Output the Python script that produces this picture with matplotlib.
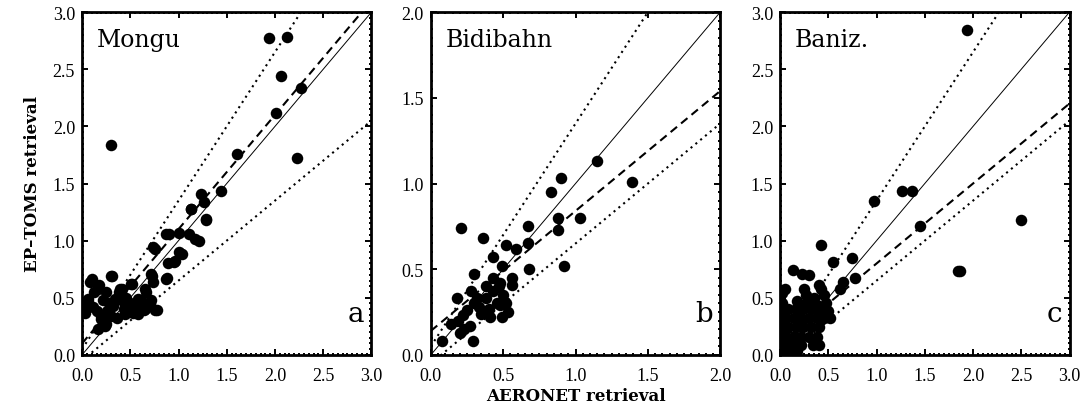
import numpy as np
import matplotlib
matplotlib.use('Agg')
import matplotlib.pyplot as plt
from matplotlib.ticker import MultipleLocator

# site names and panel letters
sites = ['Mongu', 'Bidibahn', 'Baniz.']
letters = ['a', 'b', 'c']
axmax = [3.0, 2.0, 3.0]

# AERONET (x) vs EP-TOMS (y)
mongu_x = [1.94, 2.12, 2.06, 2.27, 2.01, 2.23, 0.30, 1.61, 1.44, 1.23, 1.13, 1.26, 1.29,
           1.00, 0.90, 1.11, 1.21, 1.04, 0.95, 0.74, 0.72, 0.74, 0.88, 0.06, 0.08, 0.18,
           0.31, 0.39, 0.52, 0.66, 0.72, 0.78, 0.64, 0.53, 0.43, 0.32, 0.20, 0.25, 0.17,
           0.36, 0.22, 0.11, 0.03, 0.61, 0.46, 0.36, 0.10, 0.30, 0.06, 0.06, 0.17, 0.20,
           0.24, 0.30, 0.41, 0.51, 0.65, 0.76, 0.65, 0.48, 0.34, 0.58, 0.73, 0.87, 0.89,
           0.96, 1.00, 0.76, 0.87, 1.17, 1.28, 1.13, 0.12, 0.25, 0.28, 0.42, 0.50, 0.56,
           0.45, 0.58, 0.70, 0.15, 0.00, 0.26, 0.38]
mongu_y = [2.77, 2.78, 2.44, 2.34, 2.12, 1.72, 1.84, 1.76, 1.43, 1.41, 1.28, 1.34, 1.18,
           1.07, 1.06, 1.06, 1.00, 0.88, 0.81, 0.94, 0.71, 0.64, 0.67, 0.46, 0.64, 0.61,
           0.69, 0.58, 0.62, 0.55, 0.48, 0.39, 0.39, 0.37, 0.40, 0.43, 0.34, 0.27, 0.23,
           0.49, 0.48, 0.42, 0.37, 0.48, 0.50, 0.32, 0.66, 0.69, 0.49, 0.45, 0.58, 0.31,
           0.25, 0.34, 0.58, 0.62, 0.58, 0.39, 0.40, 0.40, 0.49, 0.49, 0.69, 0.66, 0.80,
           0.82, 0.90, 0.93, 1.06, 1.01, 1.19, 1.28, 0.55, 0.55, 0.45, 0.47, 0.45, 0.42,
           0.36, 0.36, 0.45, 0.38, 0.40, 0.38, 0.55]

bidi_x = [1.15, 0.90, 0.83, 1.39, 0.88, 0.88, 1.03, 0.92, 0.21, 0.36, 0.67, 0.52, 0.59,
          0.67, 0.43, 0.49, 0.68, 0.56, 0.56, 0.30, 0.18, 0.28, 0.38, 0.43, 0.50, 0.32,
          0.38, 0.48, 0.53, 0.49, 0.35, 0.22, 0.19, 0.14, 0.27, 0.08, 0.29, 0.43, 0.48,
          0.40, 0.46, 0.33, 0.25, 0.47, 0.52, 0.41, 0.30, 0.23, 0.20]
bidi_y = [1.13, 1.03, 0.95, 1.01, 0.80, 0.73, 0.80, 0.52, 0.74, 0.68, 0.75, 0.64, 0.62,
          0.65, 0.57, 0.52, 0.50, 0.45, 0.41, 0.47, 0.33, 0.37, 0.40, 0.37, 0.35, 0.33,
          0.33, 0.29, 0.25, 0.22, 0.24, 0.23, 0.20, 0.18, 0.17, 0.08, 0.08, 0.45, 0.42,
          0.27, 0.30, 0.28, 0.26, 0.40, 0.30, 0.22, 0.30, 0.15, 0.13]

baniz_x = [1.94, 0.97, 1.26, 1.37, 1.45, 2.50, 1.84, 1.86, 0.42, 0.55, 0.75, 0.78, 0.65,
           0.62, 0.13, 0.23, 0.30, 0.25, 0.40,
           0.02, 0.02, 0.03, 0.02, 0.02, 0.02, 0.02, 0.05,
           0.27, 0.35, 0.42, 0.45, 0.48, 0.50, 0.52,
           0.08, 0.16, 0.24, 0.32, 0.40,
           0.06, 0.14, 0.22, 0.30, 0.38, 0.45,
           0.08, 0.16, 0.24, 0.32, 0.40,
           0.06, 0.14, 0.22, 0.30, 0.38,
           0.08, 0.16, 0.22, 0.34, 0.40,
           0.06, 0.12, 0.18,
           0.28, 0.18, 0.38]
baniz_y = [2.84, 1.35, 1.43, 1.43, 1.13, 1.18, 0.73, 0.73, 0.96, 0.81, 0.85, 0.67, 0.64,
           0.58, 0.74, 0.71, 0.70, 0.58, 0.61,
           0.54, 0.45, 0.36, 0.27, 0.18, 0.09, 0.02, 0.58,
           0.52, 0.50, 0.58, 0.52, 0.45, 0.38, 0.32,
           0.40, 0.40, 0.40, 0.40, 0.40,
           0.32, 0.32, 0.32, 0.32, 0.32, 0.32,
           0.24, 0.24, 0.24, 0.24, 0.24,
           0.16, 0.16, 0.16, 0.16, 0.16,
           0.09, 0.09, 0.09, 0.09, 0.09,
           0.03, 0.03, 0.03,
           0.45, 0.47, 0.44]

# regression line (slope, offset) for each site
fit_slope = [1.0, 0.70, 0.70]
fit_offset = [0.10, 0.14, 0.10]
# expected error envelope: +-(env_a + env_b*tau)
env_a = 0.05
env_b = 0.3

xs = [mongu_x, bidi_x, baniz_x]
ys = [mongu_y, bidi_y, baniz_y]

fig = plt.figure(figsize=(10.88, 4.10), dpi=100)
lefts = [0.0754, 0.396, 0.717]
width = 0.266
bottom = 0.132
height = 0.836

for k in range(3):
    ax = fig.add_axes([lefts[k], bottom, width, height])
    top = axmax[k]
    t = np.linspace(0, top, 200)
    ax.plot(t, t, 'k-', lw=0.7)
    ax.plot(t, fit_slope[k]*t + fit_offset[k], 'k', lw=1.5, dashes=(4, 2.5))
    ax.plot(t, t + (env_a + env_b*t), 'k', lw=1.5, dashes=(1, 2))
    ax.plot(t, t - (env_a + env_b*t), 'k', lw=1.5, dashes=(1, 2))
    ax.plot(xs[k], ys[k], 'ko', ms=8.3, mew=0)
    ax.set_xlim(0, top)
    ax.set_ylim(0, top)
    ax.xaxis.set_major_locator(MultipleLocator(0.5))
    ax.yaxis.set_major_locator(MultipleLocator(0.5))
    ax.xaxis.set_minor_locator(MultipleLocator(0.05))
    ax.yaxis.set_minor_locator(MultipleLocator(0.05))
    ax.tick_params(which='both', direction='in', top=True, right=True, width=1.4)
    ax.tick_params(which='major', length=4)
    ax.tick_params(which='minor', length=1.6)
    ax.tick_params(axis='x', pad=9)
    ax.tick_params(axis='y', pad=5)
    ax.set_xticklabels(['%.1f' % v for v in ax.get_xticks()], family='Liberation Serif', fontsize=13)
    ax.set_yticklabels(['%.1f' % v for v in ax.get_yticks()], family='Liberation Serif', fontsize=13)
    for s in ax.spines.values():
        s.set_linewidth(2)
        s.set_zorder(5)
    ax.text(0.05, 0.90, sites[k], transform=ax.transAxes, family='DejaVu Serif', fontsize=17)
    ax.text(0.975, 0.10, letters[k], transform=ax.transAxes, ha='right', family='DejaVu Serif', fontsize=20)
    if k == 0:
        ax.set_ylabel('EP\u2013TOMS retrieval', family='DejaVu Serif', fontweight='bold', fontsize=12, labelpad=8)
    if k == 1:
        ax.set_xlabel('AERONET retrieval', family='DejaVu Serif', fontweight='bold', fontsize=12, labelpad=2)

plt.savefig('out.png', dpi=100)
